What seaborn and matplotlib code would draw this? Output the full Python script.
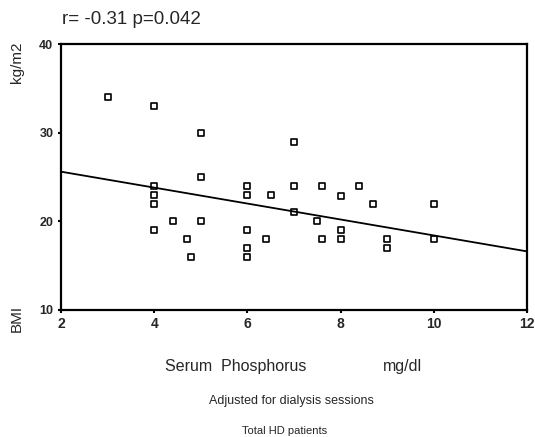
import matplotlib
matplotlib.use("Agg")
import matplotlib.pyplot as plt
import seaborn as sns
import pandas as pd

# Data
phosphorus = [3, 4, 5, 5, 4, 4, 4, 4.4, 5, 4, 4.7, 4.8,
              6, 6, 6.5, 6, 6.4, 6, 6,
              7, 7, 7.6, 8.4, 8, 8.7, 7, 7.5, 8, 7.6, 8, 9, 9,
              10, 10]
bmi = [34, 33, 30, 25, 24, 23, 22, 20, 20, 19, 18, 16,
       24, 23, 23, 19, 18, 17, 16,
       29, 24, 24, 24, 22.8, 22, 21, 20, 19, 18, 18, 18, 17,
       22, 18]
fit_x = [2, 12]
fit_y = [25.6, 16.6]
x_ticks = [2, 4, 6, 8, 10, 12]
y_ticks = [10, 20, 30, 40]

df = pd.DataFrame({"phosphorus": phosphorus, "bmi": bmi})
fit = pd.DataFrame({"x": fit_x, "y": fit_y})

sns.set_style("ticks")
plt.rcParams["font.family"] = ["Liberation Sans", "DejaVu Sans"]

fig = plt.figure(figsize=(5.35, 4.37), dpi=100)
ax = fig.add_axes([0.114, 0.291, 0.871, 0.608])

sns.lineplot(data=fit, x="x", y="y", ax=ax, color="black", linewidth=1.3)
sns.scatterplot(data=df, x="phosphorus", y="bmi", ax=ax, marker="s",
                s=18, facecolor="white", edgecolor="black", linewidth=1.2)

ax.set_xlim(2, 12)
ax.set_ylim(10, 40)
ax.set_xticks(x_ticks)
ax.set_yticks(y_ticks)
ax.set_xticklabels([str(v) for v in x_ticks], fontsize=10, fontweight="bold")
ax.set_yticklabels([str(v) for v in y_ticks], fontsize=9, fontweight="bold")
ax.tick_params(direction="out", length=2.5, width=1.5, color="black", pad=3)
ax.set_xlabel("")
ax.set_ylabel("")
for side in ["left", "right", "top", "bottom"]:
    ax.spines[side].set_visible(True)
    ax.spines[side].set_linewidth(1.6)
    ax.spines[side].set_color("black")

fig.text(62 / 535, 1 - 19 / 437, "r= -0.31 p=0.042", fontsize=13.5, ha="left", va="center")
fig.text(17 / 535, 1 - 62 / 437, "kg/m2", fontsize=11, rotation=90, ha="center", va="center")
fig.text(17 / 535, 1 - 318 / 437, "BMI", fontsize=11, rotation=90, ha="center", va="center")
fig.text(165 / 535, 1 - 367 / 437, "Serum  Phosphorus", fontsize=11.5, ha="left", va="center")
fig.text(383 / 535, 1 - 367 / 437, "mg/dl", fontsize=11.5, ha="left", va="center")
fig.text(291 / 535, 1 - 401 / 437, "Adjusted for dialysis sessions", fontsize=9, ha="center", va="center")
fig.text(285 / 535, 1 - 431 / 437, "Total HD patients", fontsize=8, ha="center", va="center")

fig.savefig("out.png", dpi=100)
